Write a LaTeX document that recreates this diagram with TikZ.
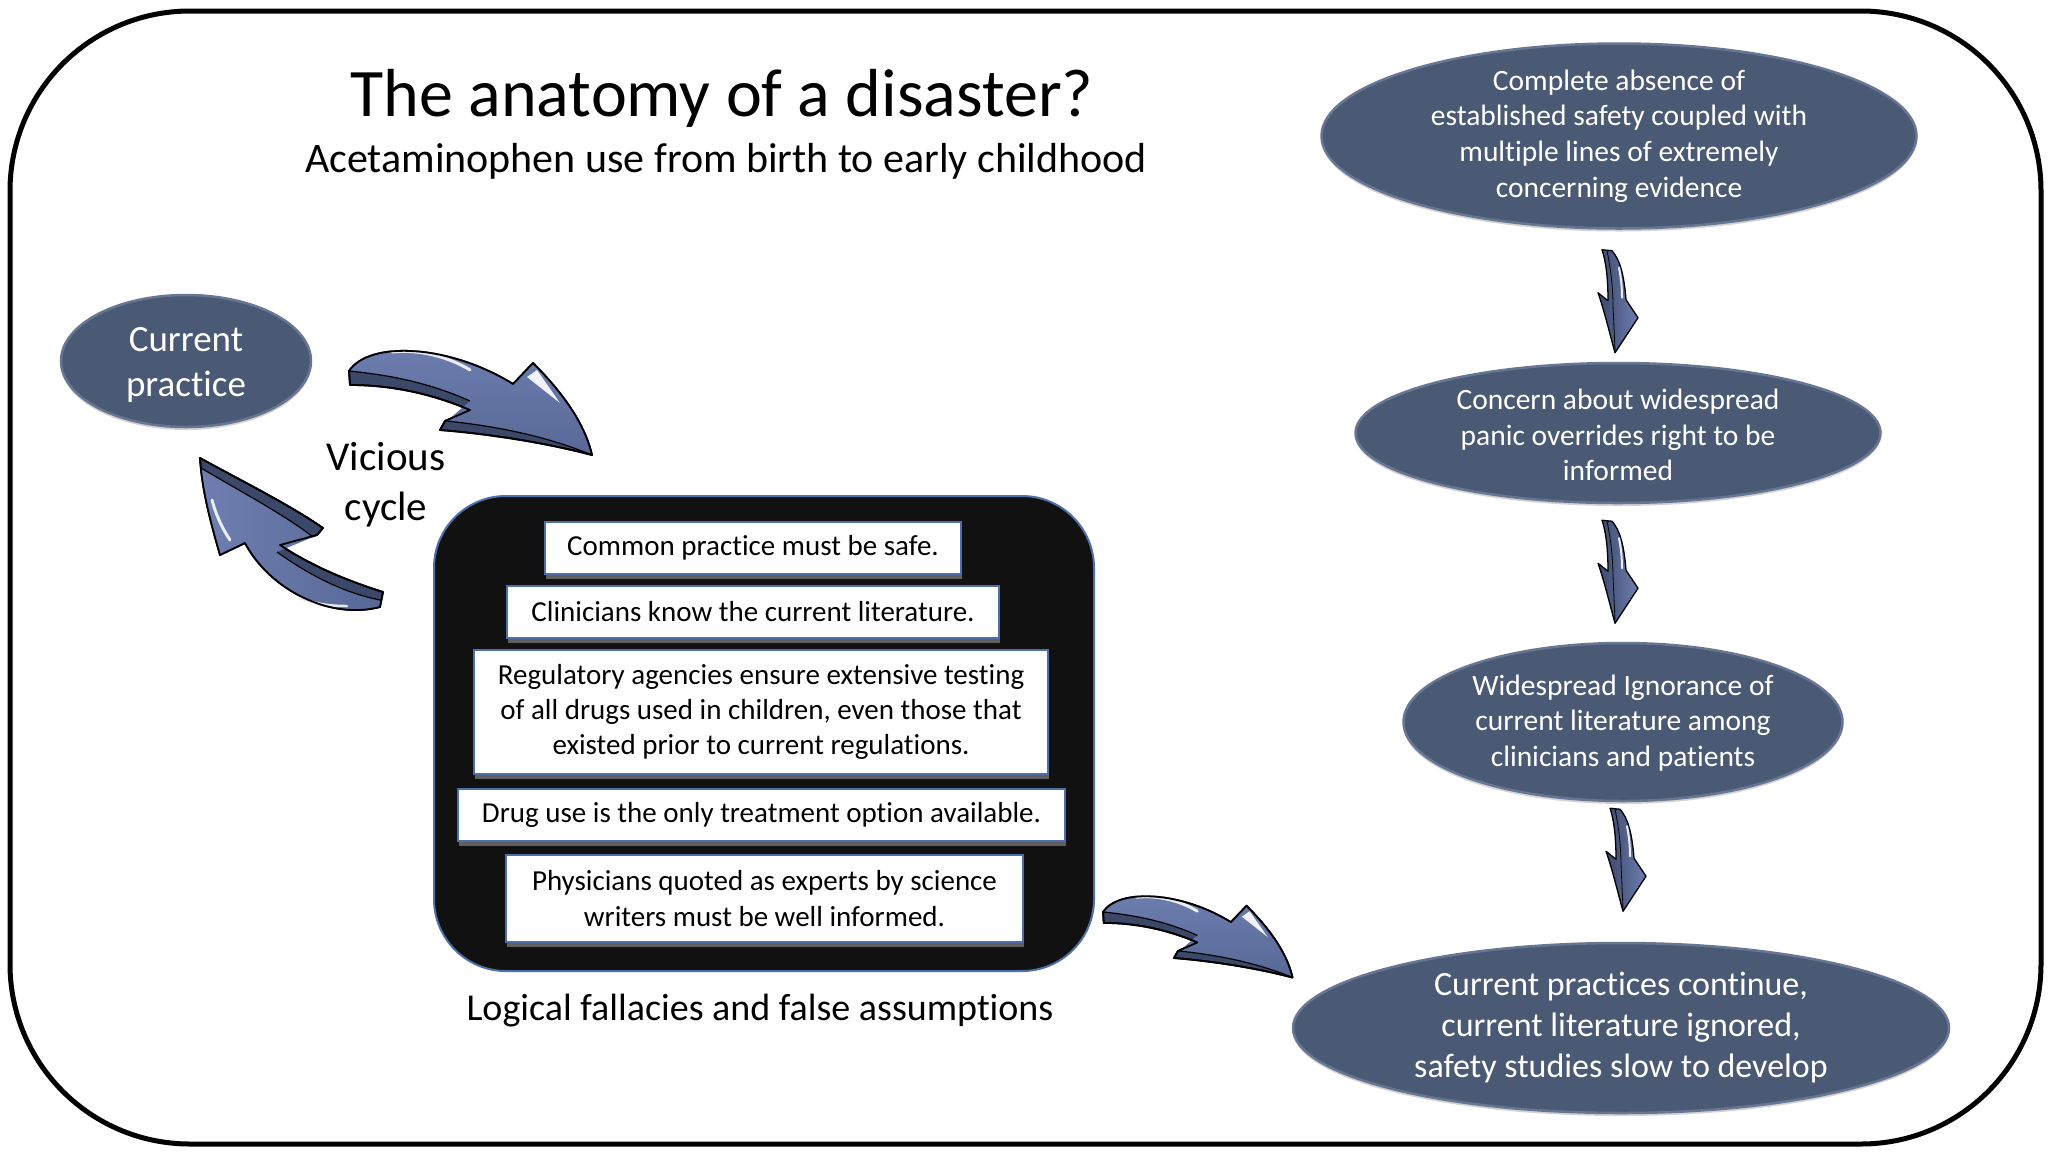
\documentclass[tikz,border=0pt]{standalone}
\usepackage{fontspec}
\setmainfont{Carlito}[Ligatures={NoCommon}]
\usetikzlibrary{shapes.geometric,shadows,calc}
\definecolor{ellfill}{RGB}{75,90,116}
\definecolor{ellrim}{RGB}{104,118,148}
\definecolor{arrtop}{RGB}{88,104,150}
\definecolor{arrlight}{RGB}{110,126,176}
\definecolor{arrside}{RGB}{60,72,106}
\definecolor{boxblue}{RGB}{79,111,170}
\definecolor{boxblack}{RGB}{17,17,17}
\begin{document}
\begin{tikzpicture}[x=1pt,y=-1pt,
  ell/.style={ellipse, fill=ellfill, draw=ellrim, line width=2.5, inner sep=0,
    drop shadow={shadow xshift=0pt, shadow yshift=-3pt, fill=black!35, opacity=0.5}},
  elltext/.style={text=white, align=center, font=\fontsize{29.5}{35.7}\selectfont},
  wbox/.style={rectangle, fill=white, draw=boxblue, line width=2.5, inner sep=0,
    align=center, font=\fontsize{29}{35.3}\selectfont,
    drop shadow={shadow xshift=1pt, shadow yshift=-5pt, fill=black!55, opacity=0.8}},
  plain/.style={text=black},
  bigarr/.pic={
    \path[fill=arrside, draw=black, line width=1.8, line join=round]
      (0,0) .. controls (21,-31) and (101,-26) .. (164,13) -- (184,-8)
      .. controls (216,24) and (236,54) .. (243,84)
      .. controls (190,70) and (130,62) .. (91,59) -- (96,50) -- (121,39)
      .. controls (81,22) and (41,14) .. (1,14) -- cycle;
    \path[top color=arrlight, bottom color=arrtop]
      (0,0) .. controls (21,-31) and (101,-26) .. (164,13) -- (184,-8)
      .. controls (216,24) and (236,54) .. (243,84)
      .. controls (190,62) and (135,54) .. (98,50) -- (121,30)
      .. controls (81,12) and (41,4) .. (0,0) -- cycle;
    \draw[black, line width=1.2] (0,0) .. controls (41,4) and (81,12) .. (121,30);
    \draw[black, line width=1.2] (98,50) .. controls (135,54) and (190,62) .. (243,84);
    \draw[white!85!arrlight, line width=3, line cap=round] (43,-19) .. controls (70,-22) and (100,-14) .. (121,-1);
    \fill[white!90!arrlight] (178,6) -- (188,-1) -- (211,32) -- cycle;
    \path[draw=black, line width=1.8, line join=round]
      (0,0) .. controls (21,-31) and (101,-26) .. (164,13) -- (184,-8)
      .. controls (216,24) and (236,54) .. (243,84)
      .. controls (190,70) and (130,62) .. (91,59) -- (96,50) -- (121,39)
      .. controls (81,22) and (41,14) .. (1,14) -- cycle;
  },
  smallarr/.pic={
    \path[left color=arrside, right color=arrlight, draw=black, line width=1.3, line join=round]
      (0,0) -- (10,1) .. controls (18,10) and (22,25) .. (24,50) -- (36,68) -- (13,103)
      .. controls (8,85) and (2,60) .. (-4,43) -- (6,51)
      .. controls (6,35) and (5,15) .. (0,0) -- cycle;
    \draw[black, line width=0.8] (5,1) .. controls (9,20) and (11,40) .. (11,56) -- (13,100);
    \draw[white!85!arrlight, line width=2, line cap=round] (17,18) .. controls (19,28) and (20,38) .. (20,48);
  }
]
\useasboundingbox (0,0) rectangle (2048,1152);
\fill[white] (0,0) rectangle (2048,1152);

% outer frame
\draw[line width=5, rounded corners=180] (10,11) rectangle (2041,1144);

% titles
\node[plain, anchor=base, font=\fontsize{68}{80}\selectfont] (title) at (722,116) {The anatomy of a disaster?};
\node[plain, anchor=base, font=\fontsize{42}{50}\selectfont] (sub) at (726,172) {Acetaminophen use from birth to early childhood};

% current practice
\node[ell, minimum width=250, minimum height=132] (CP) at (186,361) {};
\node[elltext, font=\fontsize{37}{45.7}\selectfont] (CPt) at ($(CP)+(0,4)$) {Current\\practice};

\node[plain, align=center, font=\fontsize{41}{50}\selectfont] (VC) at (386,485) {Vicious\\cycle};

% black box with assumptions
\node[draw=boxblue, fill=boxblack, line width=2, rounded corners=72, minimum width=660, minimum height=475, inner sep=0] (BB) at (764,733.5) {};
\node[wbox, minimum width=416, minimum height=52] (B1) at (753,548) {Common practice must be safe.};
\node[wbox, minimum width=492, minimum height=52] (B2) at (753,612) {Clinicians know the current literature.};
\node[wbox, minimum width=574, minimum height=124] (B3) at (761,712) {Regulatory agencies ensure extensive testing\\of all drugs used in children, even those that\\existed prior to current regulations.};
\node[wbox, minimum width=607, minimum height=52] (B4) at (761.5,815) {Drug use is the only treatment option available.};
\node[wbox, minimum width=517, minimum height=87] (B5) at (764.5,898.5) {Physicians quoted as experts by science\\writers must be well informed.};
\node[plain, anchor=base, font=\fontsize{38}{45}\selectfont] (LF) at (760,1020) {Logical fallacies and false assumptions};

% right chain
\node[ell, minimum width=595, minimum height=185] (E1) at (1619,136) {};
\node[elltext] (E1t) at (E1) {Complete absence of\\established safety coupled with\\multiple lines of extremely\\concerning evidence};
\node[ell, minimum width=525, minimum height=140] (E2) at (1618,433) {};
\node[elltext] (E2t) at ($(E2)+(0,2)$) {Concern about widespread\\panic overrides right to be\\informed};
\node[ell, minimum width=439, minimum height=158] (E3) at (1623,722) {};
\node[elltext] (E3t) at ($(E3)+(0,1)$) {Widespread Ignorance of\\current literature among\\clinicians and patients};
\node[ell, minimum width=656, minimum height=170] (E4) at (1621,1028) {};
\node[elltext, font=\fontsize{34}{41}\selectfont] (E4t) at (E4) {Current practices continue,\\current literature ignored,\\safety studies slow to develop};

% small arrows between the right ellipses
\pic at ($(E1.south)+(-17,20)$) {smallarr};
\pic at ($(E2.south)+(-16,16)$) {smallarr};
\pic at ($(E3.south)+(-13,6)$) {smallarr};

% big arrows
\pic at (349,371) {bigarr};
\pic[scale=0.78] at (1103,912) {bigarr};

% arrow back to current practice
\path[fill=arrside, draw=black, line width=1.8, line join=round]
  (200,458) .. controls (240,480) and (290,505) .. (323,528) -- (317,535) -- (280,545)
  .. controls (310,565) and (345,580) .. (383,592) -- (380,607)
  .. controls (330,620) and (270,590) .. (245,543) -- (220,555)
  .. controls (210,520) and (202,490) .. (200,458) -- cycle;
\path[left color=arrlight, right color=arrtop]
  (201,468) .. controls (238,490) and (285,515) .. (313,537) -- (277,552)
  .. controls (305,572) and (340,592) .. (380,600) -- (380,607)
  .. controls (330,620) and (270,590) .. (245,543) -- (220,555)
  .. controls (210,520) and (202,490) .. (201,468) -- cycle;
\draw[black, line width=1.2] (201,468) .. controls (238,490) and (285,515) .. (313,537);
\draw[black, line width=1.2] (277,552) .. controls (305,572) and (340,592) .. (380,600);
\draw[white!85!arrlight, line width=3, line cap=round] (212,500) .. controls (216,515) and (222,528) .. (230,540);
\draw[white!80!arrlight, line width=2.5, line cap=round] (300,598) .. controls (315,604) and (330,606) .. (347,606);
\path[draw=black, line width=1.8, line join=round]
  (200,458) .. controls (240,480) and (290,505) .. (323,528) -- (317,535) -- (280,545)
  .. controls (310,565) and (345,580) .. (383,592) -- (380,607)
  .. controls (330,620) and (270,590) .. (245,543) -- (220,555)
  .. controls (210,520) and (202,490) .. (200,458) -- cycle;
\end{tikzpicture}
\end{document}
